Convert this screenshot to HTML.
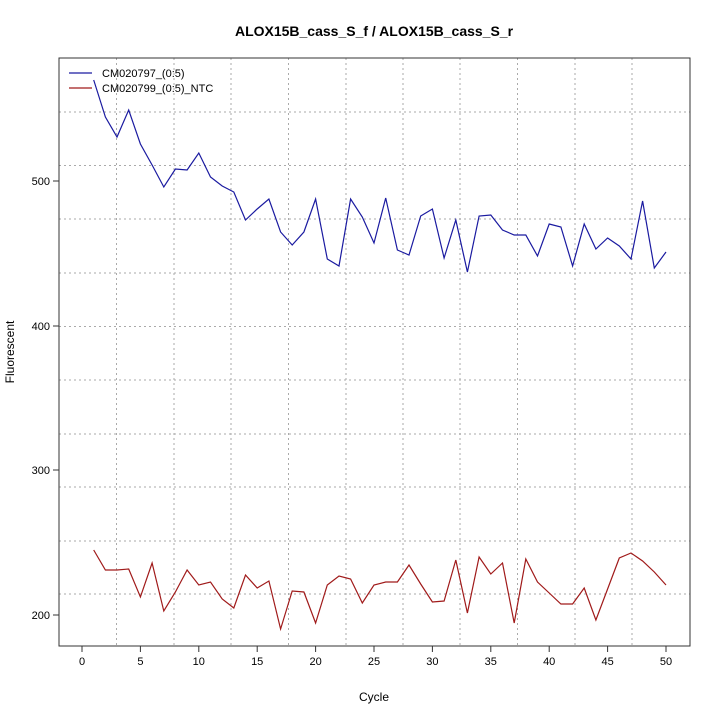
<!DOCTYPE html><html><head><style>body{margin:0;background:#fff}svg{font-family:"Liberation Sans",sans-serif}</style></head><body>
<svg width="720" height="720" xmlns="http://www.w3.org/2000/svg">
<rect width="720" height="720" fill="#fff"/>
<g stroke="#aaa" stroke-dasharray="2,3" stroke-width="1">
<line x1="116.5" y1="58" x2="116.5" y2="646"/><line x1="174" y1="58" x2="174" y2="646"/><line x1="231" y1="58" x2="231" y2="646"/><line x1="288.5" y1="58" x2="288.5" y2="646"/><line x1="346" y1="58" x2="346" y2="646"/><line x1="403" y1="58" x2="403" y2="646"/><line x1="460" y1="58" x2="460" y2="646"/><line x1="517.5" y1="58" x2="517.5" y2="646"/><line x1="575" y1="58" x2="575" y2="646"/><line x1="632" y1="58" x2="632" y2="646"/>
<line x1="59" y1="112" x2="690" y2="112"/><line x1="59" y1="165.5" x2="690" y2="165.5"/><line x1="59" y1="219" x2="690" y2="219"/><line x1="59" y1="273" x2="690" y2="273"/><line x1="59" y1="326.5" x2="690" y2="326.5"/><line x1="59" y1="380" x2="690" y2="380"/><line x1="59" y1="434" x2="690" y2="434"/><line x1="59" y1="487" x2="690" y2="487"/><line x1="59" y1="541" x2="690" y2="541"/><line x1="59" y1="594" x2="690" y2="594"/>
</g>
<rect x="59" y="58" width="631" height="588" fill="none" stroke="#333" stroke-width="1"/>
<g stroke="#333">
<line x1="82" y1="646" x2="666" y2="646"/>
<line x1="82" y1="646" x2="82" y2="652"/><line x1="140.4" y1="646" x2="140.4" y2="652"/><line x1="198.8" y1="646" x2="198.8" y2="652"/><line x1="257.2" y1="646" x2="257.2" y2="652"/><line x1="315.6" y1="646" x2="315.6" y2="652"/><line x1="374" y1="646" x2="374" y2="652"/><line x1="432.4" y1="646" x2="432.4" y2="652"/><line x1="490.8" y1="646" x2="490.8" y2="652"/><line x1="549.2" y1="646" x2="549.2" y2="652"/><line x1="607.6" y1="646" x2="607.6" y2="652"/><line x1="666" y1="646" x2="666" y2="652"/>
<line x1="59" y1="181" x2="59" y2="615"/>
<line x1="53" y1="181" x2="59" y2="181"/><line x1="53" y1="326" x2="59" y2="326"/><line x1="53" y1="470" x2="59" y2="470"/><line x1="53" y1="615" x2="59" y2="615"/>
</g>
<g font-size="11" text-anchor="middle" fill="#000">
<text x="82" y="665">0</text><text x="140.4" y="665">5</text><text x="198.8" y="665">10</text><text x="257.2" y="665">15</text><text x="315.6" y="665">20</text><text x="374" y="665">25</text><text x="432.4" y="665">30</text><text x="490.8" y="665">35</text><text x="549.2" y="665">40</text><text x="607.6" y="665">45</text><text x="666" y="665">50</text>
</g>
<g font-size="11" text-anchor="end">
<text x="50" y="185">500</text><text x="50" y="330">400</text><text x="50" y="474">300</text><text x="50" y="619">200</text>
</g>
<text x="374" y="701" font-size="12" text-anchor="middle">Cycle</text>
<text transform="translate(14,352) rotate(-90)" font-size="12" text-anchor="middle">Fluorescent</text>
<text x="374" y="36" font-size="14" font-weight="bold" text-anchor="middle">ALOX15B_cass_S_f / ALOX15B_cass_S_r</text>
<polyline fill="none" stroke="#1a1aa0" stroke-width="1.2" points="93.7,80 105.4,117 117,137 128.7,110 140.4,144 152.1,165 163.8,187 175.4,169 187.1,170 198.8,153 210.5,177 222.2,186 233.8,192 245.5,220 257.2,209 268.9,199 280.6,232 292.2,245 303.9,232 315.6,199 327.3,259 339,266 350.6,199 362.3,217 374,243 385.7,198 397.4,250 409,255 420.7,216 432.4,209 444.1,258 455.8,220 467.4,272 479.1,216 490.8,215 502.5,230 514.2,235 525.8,235 537.5,256 549.2,224 560.9,227 572.6,266 584.2,224 595.9,249 607.6,238 619.3,246 631,259 642.6,201 654.3,268 666,252"/>
<polyline fill="none" stroke="#a01a1a" stroke-width="1.2" points="93.7,550 105.4,570 117,570 128.7,569 140.4,597 152.1,563 163.8,611 175.4,592 187.1,570 198.8,585 210.5,582 222.2,599 233.8,608 245.5,575 257.2,588 268.9,581 280.6,629 292.2,591 303.9,592 315.6,623 327.3,585 339,576 350.6,579 362.3,603 374,585 385.7,582 397.4,582 409,565 420.7,584 432.4,602 444.1,601 455.8,560 467.4,613 479.1,557 490.8,574 502.5,563 514.2,623 525.8,559 537.5,582 549.2,593 560.9,604 572.6,604 584.2,588 595.9,620 607.6,589 619.3,558 631,553 642.6,561 654.3,572 666,585"/>
<line x1="69" y1="73" x2="92" y2="73" stroke="#1a1aa0" stroke-width="1.2"/>
<line x1="69" y1="88" x2="92" y2="88" stroke="#a01a1a" stroke-width="1.2"/>
<text x="102" y="77" font-size="11">CM020797_(0:5)</text>
<text x="102" y="92" font-size="11">CM020799_(0:5)_NTC</text>
</svg></body></html>
